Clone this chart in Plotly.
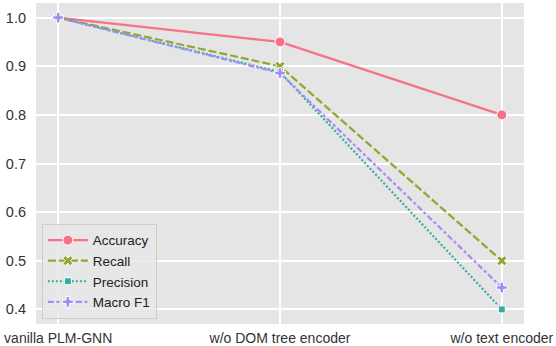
import plotly.graph_objects as go

categories = ["vanilla PLM-GNN", "w/o DOM tree encoder", "w/o text encoder"]
accuracy = [1.0, 0.95, 0.80]
recall = [1.0, 0.90, 0.50]
precision = [1.0, 0.888, 0.40]
macro_f1 = [1.0, 0.886, 0.445]

series = [
    ("Accuracy", accuracy, "#f77189", "solid", "circle", 10),
    ("Recall", recall, "#97a431", "8px,3px", "x", 9),
    ("Precision", precision, "#36ada4", "2px,2px", "square", 7),
    ("Macro F1", macro_f1, "#a48cf4", "6px,2.5px,3px,2.5px", "cross", 9),
]

fig = go.Figure()
for name, vals, color, dash, symbol, size in series:
    fig.add_trace(go.Scatter(
        x=categories, y=vals, name=name, mode="lines+markers",
        line=dict(color=color, width=2.2, dash=dash),
        marker=dict(symbol=symbol, size=size, color=color,
                    line=dict(color="white", width=1)),
    ))

fig.update_layout(
    width=556, height=346,
    margin=dict(l=36, r=32, t=3, b=22),
    paper_bgcolor="white", plot_bgcolor="#e5e5e5",
    font=dict(family="Liberation Sans, Arial, sans-serif", size=14.5, color="#333"),
    legend=dict(x=0.012, y=0.016, xanchor="left", yanchor="bottom",
                bgcolor="rgba(232,232,232,0.85)", bordercolor="#cccccc",
                borderwidth=1, font=dict(size=13.5, color="#222"),
                itemwidth=40, tracegroupgap=0),
    showlegend=True,
)
fig.update_xaxes(type="category", range=[-0.1, 2.1], showgrid=True,
                 gridcolor="white", gridwidth=1.5, zeroline=False,
                 ticks="", ticklen=0, ticklabelstandoff=4,
                 tickfont=dict(size=14), automargin=False)
fig.update_yaxes(range=[0.37, 1.03], dtick=0.1, tickformat=".1f",
                 showgrid=True, gridcolor="white", gridwidth=1.5,
                 zeroline=False, ticks="", ticklen=0, ticklabelstandoff=9,
                 automargin=False)

# the page body has an 8px default margin; drop it so the figure fills the window
fig.write_html("out.html", config={"displayModeBar": False},
               post_script="document.body.style.margin='0';")
